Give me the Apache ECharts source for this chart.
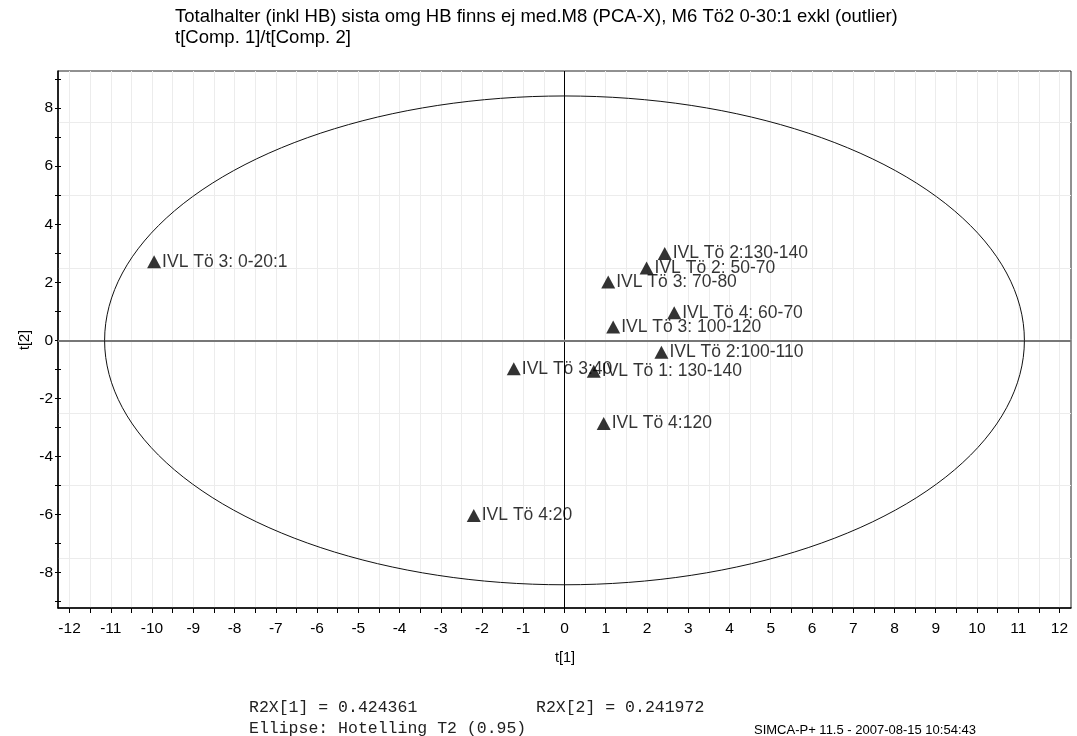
<!DOCTYPE html>
<html><head><meta charset="utf-8">
<script src="https://cdn.jsdelivr.net/npm/echarts@6/dist/echarts.min.js"></script>
<style>html,body{margin:0;padding:0;background:#fff}#c{width:1077px;height:736px}</style>
</head><body><div id="c"></div><script>
// ---- data ----
const pointNames = ['IVL Tö 3: 0-20:1','IVL Tö 2:130-140','IVL Tö 2: 50-70','IVL Tö 3: 70-80','IVL Tö 4: 60-70','IVL Tö 3: 100-120','IVL Tö 2:100-110','IVL Tö 1: 130-140','IVL Tö 3:40','IVL Tö 4:120','IVL Tö 4:20'];
const t1 = [-9.95, 2.43, 1.99, 1.06, 2.66, 1.18, 2.35, 0.71, -1.23, 0.95, -2.20];
const t2 = [2.71, 2.99, 2.49, 2.01, 0.95, 0.46, -0.41, -1.06, -0.98, -2.86, -6.03];
const xLabelValues = [-12,-11,-10,-9,-8,-7,-6,-5,-4,-3,-2,-1,0,1,2,3,4,5,6,7,8,9,10,11,12];
const xTickValues = [-12,-11.5,-11,-10.5,-10,-9.5,-9,-8.5,-8,-7.5,-7,-6.5,-6,-5.5,-5,-4.5,-4,-3.5,-3,-2.5,-2,-1.5,-1,-0.5,0,0.5,1,1.5,2,2.5,3,3.5,4,4.5,5,5.5,6,6.5,7,7.5,8,8.5,9,9.5,10,10.5,11,11.5,12];
const yLabelValues = [-8,-6,-4,-2,0,2,4,6,8];
const yTickValues = [-9,-8,-7,-6,-5,-4,-3,-2,-1,0,1,2,3,4,5,6,7,8,9];
const yGridValues = [-7.5,-5,-2.5,0,2.5,5,7.5];
const ellipseSemiAxes = [11.15, 8.42];   // Hotelling T2 (0.95) ellipse radii in t[1], t[2]
const xRange = [-12.28, 12.28];
const yRange = [-9.22, 9.28];
const titleLines = ['Totalhalter (inkl HB) sista omg HB finns ej med.M8 (PCA-X), M6 Tö2 0-30:1 exkl (outlier)', 't[Comp. 1]/t[Comp. 2]'];
const statLines = ['R2X[1] = 0.424361', 'R2X[2] = 0.241972', 'Ellipse: Hotelling T2 (0.95)'];
const footer = 'SIMCA-P+ 11.5 - 2007-08-15 10:54:43';

// ---- build ----
const SANS = 'Liberation Sans, Arial, sans-serif';
const MONO = 'Liberation Mono, Courier New, monospace';
const pts = pointNames.map((n, i) => ({name: n, value: [t1[i], t2[i]]}));
const ell = [];
for (let k = 0; k <= 180; k++) {
  const th = k / 180 * 2 * Math.PI;
  ell.push([ellipseSemiAxes[0] * Math.cos(th), ellipseSemiAxes[1] * Math.sin(th)]);
}

const chart = echarts.init(document.getElementById('c'), null, {renderer: 'canvas'});
chart.setOption({
  animation: false,
  backgroundColor: '#fff',
  grid: {left: 58, top: 71, width: 1013, height: 537, show: true, borderColor: '#222', borderWidth: 1, backgroundColor: 'transparent'},
  xAxis: [{
    type: 'value', min: xRange[0], max: xRange[1],
    axisLine: {show: true, onZero: false, lineStyle: {color: '#000', width: 1.5}},
    axisTick: {show: true, customValues: xTickValues, length: 5, lineStyle: {color: '#000', width: 1}},
    axisLabel: {customValues: xLabelValues, color: '#000', fontSize: 15.5, fontFamily: SANS, margin: 13},
    splitLine: {show: true, lineStyle: {color: '#ececec', width: 1}}
  }],
  yAxis: [{
    type: 'value', min: yRange[0], max: yRange[1],
    axisLine: {show: true, onZero: false, lineStyle: {color: '#000', width: 1.5}},
    axisTick: {show: true, customValues: yTickValues, length: 3, lineStyle: {color: '#000', width: 1}},
    axisLabel: {customValues: yLabelValues, color: '#000', fontSize: 15.5, fontFamily: SANS, margin: 5},
    splitLine: {show: false}
  }, {
    type: 'value', min: yRange[0], max: yRange[1], position: 'left',
    axisLine: {show: false}, axisLabel: {show: false},
    axisTick: {show: false, customValues: yGridValues},
    splitLine: {show: true, lineStyle: {color: '#ececec', width: 1}}
  }, {
    type: 'value', min: yRange[0], max: yRange[1], position: 'left',
    axisLine: {show: false}, axisLabel: {show: false}, splitLine: {show: false},
    axisTick: {show: true, inside: true, length: 3, customValues: yTickValues, lineStyle: {color: '#000', width: 1}}
  }],
  series: [{
    type: 'line', data: ell, showSymbol: false, symbol: 'none', silent: true, z: 2,
    lineStyle: {color: '#111', width: 1}
  }, {
    type: 'scatter', data: pts, symbol: 'triangle', symbolSize: [14, 13], z: 5,
    itemStyle: {color: '#000'},
    label: {show: true, position: 'right', distance: 1, formatter: p => p.name, color: '#000', fontSize: 17.5, fontFamily: SANS},
    markLine: {
      silent: true, symbol: 'none', label: {show: false}, z: 1,
      data: [
        {xAxis: 0, lineStyle: {color: '#000', width: 1, type: 'solid'}},
        {yAxis: 0, lineStyle: {color: '#777', width: 2, type: 'solid'}}
      ]
    }
  }],
  graphic: [
    {type: 'text', x: 175, y: 17, style: {text: titleLines[0], font: '18.5px ' + SANS, fill: '#000', textVerticalAlign: 'middle', verticalAlign: 'middle'}},
    {type: 'text', x: 175, y: 38, style: {text: titleLines[1], font: '18.5px ' + SANS, fill: '#000', textVerticalAlign: 'middle', verticalAlign: 'middle'}},
    {type: 'text', x: 25, y: 340, rotation: Math.PI / 2, style: {text: 't[2]', font: '14.5px ' + SANS, fill: '#000', textAlign: 'center', align: 'center', textVerticalAlign: 'middle', verticalAlign: 'middle'}},
    {type: 'text', x: 565, y: 658, style: {text: 't[1]', font: '14.5px ' + SANS, fill: '#000', textAlign: 'center', align: 'center', textVerticalAlign: 'middle', verticalAlign: 'middle'}},
    {type: 'text', x: 249, y: 708, style: {text: statLines[0], font: '16.5px ' + MONO, fill: '#222', textVerticalAlign: 'middle', verticalAlign: 'middle'}},
    {type: 'text', x: 536, y: 708, style: {text: statLines[1], font: '16.5px ' + MONO, fill: '#222', textVerticalAlign: 'middle', verticalAlign: 'middle'}},
    {type: 'text', x: 249, y: 729, style: {text: statLines[2], font: '16.5px ' + MONO, fill: '#222', textVerticalAlign: 'middle', verticalAlign: 'middle'}},
    {type: 'text', x: 754, y: 730, style: {text: footer, font: '13px ' + SANS, fill: '#000', textVerticalAlign: 'middle', verticalAlign: 'middle'}}
  ]
});
</script></body></html>
